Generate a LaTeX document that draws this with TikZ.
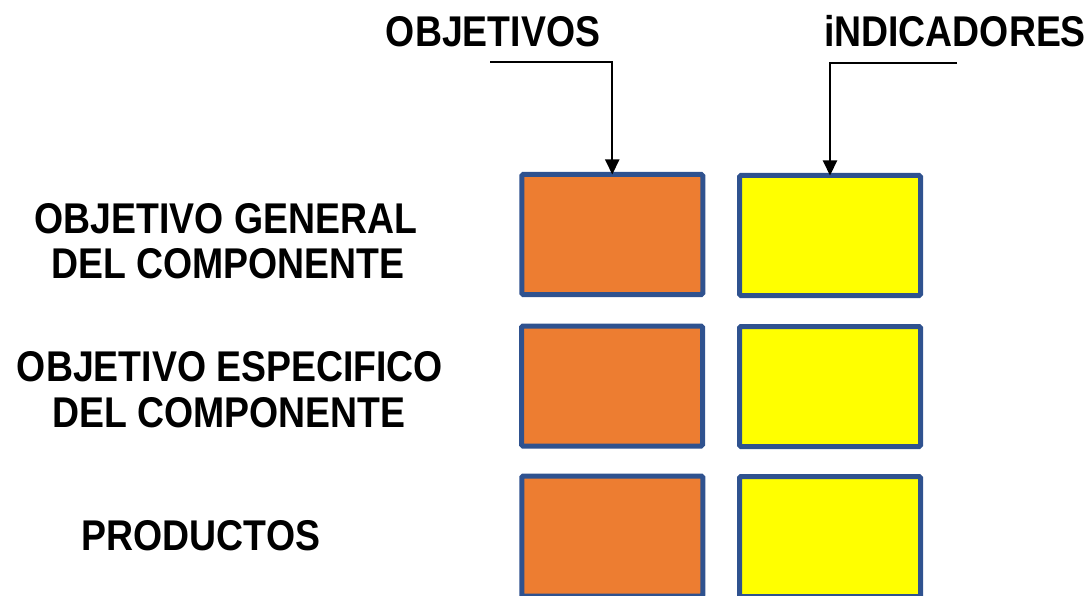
\documentclass[tikz,border=0pt]{standalone}
\usepackage{fontspec}
\setmainfont{Liberation Sans}[FakeStretch=0.87]
\usetikzlibrary{arrows.meta}
\definecolor{boxblue}{HTML}{2F528F}
\definecolor{boxorange}{HTML}{ED7D31}
\definecolor{boxyellow}{HTML}{FFFF00}
\begin{document}
\begin{tikzpicture}[x=1pt,y=-1pt,
  lbl/.style={inner sep=0pt,anchor=base,font=\fontsize{43}{45}\selectfont\bfseries},
  cell/.style={draw=boxblue,line width=5pt,rounded corners=1.5pt,inner sep=0pt,
    minimum width=181pt,minimum height=120pt},
  ocell/.style={cell,fill=boxorange},
  ycell/.style={cell,fill=boxyellow},
  conn/.style={line width=2pt,-{Triangle[width=14pt,length=15pt]}}]
\clip (0,0) rectangle (1091,596);
\useasboundingbox (0,0) rectangle (1091,596);
% boxes
\node[ocell] (o1) at (612.25,234.5) {};
\node[ycell] (y1) at (830,235.5) {};
\node[ocell] (o2) at (612,386) {};
\node[ycell] (y2) at (830,386.5) {};
\node[ocell] (o3) at (612.25,536) {};
\node[ycell] (y3) at (830,536.5) {};
% headings
\node[lbl] (hobj) at (493,47) {OBJETIVOS};
\node[lbl] (hind) at (955,47) {iNDICADORES};
% row labels
\node[lbl] (l1a) at (226,233) {OBJETIVO GENERAL};
\node[lbl] (l1b) at (228,278) {DEL COMPONENTE};
\node[lbl] (l2a) at (230,381) {OBJETIVO ESPECIFICO};
\node[lbl] (l2b) at (229,427) {DEL COMPONENTE};
\node[lbl] (l3) at (201,550) {PRODUCTOS};
% connectors
\coordinate (sobj) at (490,62);
\coordinate (sind) at (957,63);
\draw[conn] (sobj) -| ([yshift=-2.5pt]o1.north);
\draw[conn] (sind) -| ([yshift=-2.5pt]y1.north);
\end{tikzpicture}
\end{document}
